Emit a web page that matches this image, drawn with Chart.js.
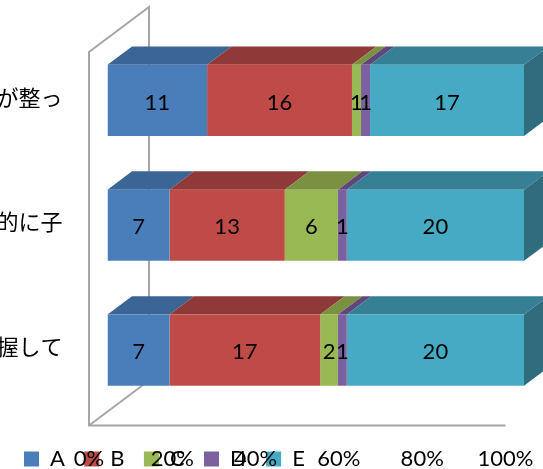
<!DOCTYPE html>
<html>
<head>
<meta charset="utf-8">
<style>
  html, body { margin: 0; padding: 0; background: #fff; overflow: hidden; }
  #wrap { width: 543px; height: 469px; }
</style>
<script src="https://cdn.jsdelivr.net/npm/chart.js@4/dist/chart.umd.min.js"></script>
</head>
<body>
<div id="wrap"><canvas id="myChart"></canvas></div>
<script>
const categories = ["が整っ", "的に子", "握して"];
const seriesNames = ["A", "B", "C", "D", "E"];
const valuesA = [11, 7, 7];
const valuesB = [16, 13, 17];
const valuesC = [1, 6, 2];
const valuesD = [1, 1, 1];
const valuesE = [17, 20, 20];
const xTicks = [0, 20, 40, 60, 80, 100];

const frontColors = ["#4a7ebb", "#be4b48", "#98b954", "#7d60a0", "#46aac4"];
const topColors = ["#3b6595", "#8f3a38", "#7a9141", "#5f4879", "#367f94"];
const sideColor = "#2f6d7e";
const wallColor = "#a6a6a6";

const allValues = [valuesA, valuesB, valuesC, valuesD, valuesE];
const fontName = 'Lato, "Noto Sans CJK JP", sans-serif';

// 100% stacked, so every row is turned into shares of its own total
function shares(values) {
  return values.map(function (v, i) {
    let total = 0;
    allValues.forEach(function (s) { total += s[i]; });
    return (v / total) * 100;
  });
}

const depthX = 24.5, depthY = 18.3;

function poly(ctx, pts, color) {
  ctx.fillStyle = color;
  ctx.beginPath();
  ctx.moveTo(pts[0][0], pts[0][1]);
  for (let i = 1; i < pts.length; i++) ctx.lineTo(pts[i][0], pts[i][1]);
  ctx.closePath();
  ctx.fill();
}

// back wall, floor and the fake 3d faces of the bars
const fake3d = {
  id: "fake3d",
  afterLayout(chart) {
    // tick labels get clipped to their scale box, the labels here run past it
    chart.scales.x.bottom = chart.height;
    chart.scales.y.left = 0;
  },
  beforeDatasetsDraw(chart) {
    const ctx = chart.ctx;
    const x = chart.scales.x;
    const area = chart.chartArea;
    const left = x.getPixelForValue(0) - 18.5;
    const right = x.getPixelForValue(100) - 18.5;
    const bottom = area.bottom + 13;
    const top = area.top + 14;

    ctx.save();
    ctx.strokeStyle = wallColor;
    ctx.lineWidth = 2;
    ctx.beginPath();
    ctx.moveTo(right, bottom);
    ctx.lineTo(left, bottom);
    ctx.lineTo(left, top);
    ctx.lineTo(left + 60, top - 45);
    ctx.lineTo(left + 60, bottom - 45);
    ctx.moveTo(left, bottom);
    ctx.lineTo(left + 60, bottom - 45);
    ctx.stroke();

    chart.data.datasets.forEach(function (ds, d) {
      chart.getDatasetMeta(d).data.forEach(function (bar) {
        const h = bar.height / 2;
        poly(ctx, [
          [bar.base, bar.y - h],
          [bar.x, bar.y - h],
          [bar.x + depthX, bar.y - h - depthY],
          [bar.base + depthX, bar.y - h - depthY]
        ], topColors[d]);
        if (d === chart.data.datasets.length - 1) {
          poly(ctx, [
            [bar.x, bar.y - h],
            [bar.x + depthX, bar.y - h - depthY],
            [bar.x + depthX, bar.y + h - depthY],
            [bar.x, bar.y + h]
          ], sideColor);
        }
      });
    });
    ctx.restore();
  },
  afterDatasetsDraw(chart) {
    const ctx = chart.ctx;
    ctx.save();
    ctx.fillStyle = "#000";
    ctx.font = "22px " + fontName;
    ctx.textAlign = "center";
    ctx.textBaseline = "middle";
    chart.data.datasets.forEach(function (ds, d) {
      chart.getDatasetMeta(d).data.forEach(function (bar, i) {
        ctx.fillText(allValues[d][i], (bar.x + bar.base) / 2, bar.y + 2);
      });
    });
    ctx.restore();
  }
};

const lineChart = document.getElementById("myChart");

new Chart(lineChart, {
  type: "bar",
  data: {
    labels: categories,
    datasets: seriesNames.map(function (name, i) {
      return {
        label: name,
        data: shares(allValues[i]),
        backgroundColor: frontColors[i],
        borderWidth: 0,
        categoryPercentage: 1,
        barPercentage: 0.57
      };
    })
  },
  options: {
    indexAxis: "y",
    responsive: true,
    maintainAspectRatio: false,
    animation: false,
    layout: { padding: { left: 21.5, right: 19, top: 38, bottom: -11 } },
    scales: {
      x: {
        stacked: true,
        min: 0,
        max: 100,
        grid: { display: false, drawTicks: false },
        border: { display: false },
        afterBuildTicks(scale) {
          scale.ticks = xTicks.map(function (v) { return { value: v }; });
        },
        afterFit(scale) {
          scale.height = 33;
          scale.paddingLeft = 0;
          scale.paddingRight = 0;
        },
        ticks: {
          callback: function (v) { return v + "%"; },
          font: { family: fontName, size: 22 },
          color: "#000",
          padding: 33,
          labelOffset: -18.5,
          maxRotation: 0,
          autoSkip: false
        }
      },
      y: {
        stacked: true,
        grid: { display: false, drawTicks: false },
        border: { display: false },
        afterFit(scale) {
          scale.width = 86;
          scale.paddingTop = 0;
          scale.paddingBottom = 0;
        },
        ticks: {
          font: { family: fontName, size: 22 },
          color: "#000",
          padding: 45,
          labelOffset: -2
        }
      }
    },
    plugins: {
      tooltip: { enabled: false },
      legend: {
        position: "bottom",
        align: "start",
        labels: {
          boxWidth: 15,
          boxHeight: 15,
          padding: 2.5,
          color: "#000",
          font: { family: fontName, size: 22 },
          generateLabels(chart) {
            return seriesNames.map(function (name, i) {
              return {
                text: name + "   ",
                fillStyle: frontColors[i],
                strokeStyle: frontColors[i],
                lineWidth: 0,
                datasetIndex: i
              };
            });
          }
        }
      }
    }
  },
  plugins: [fake3d]
});
</script>
</body>
</html>
